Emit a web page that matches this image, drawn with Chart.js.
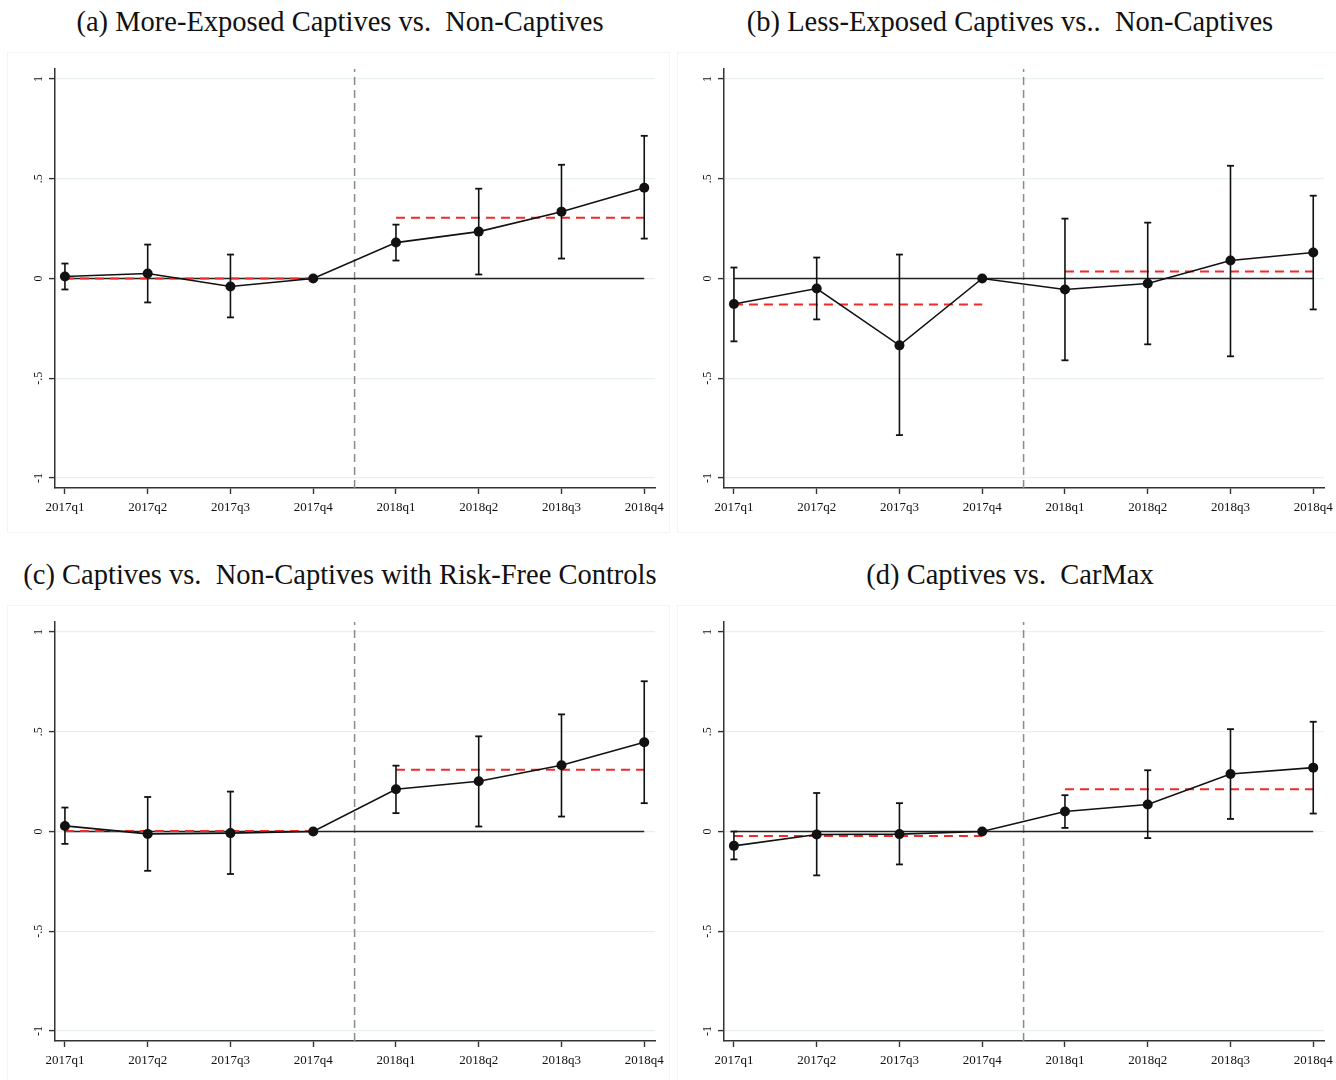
<!DOCTYPE html>
<html>
<head>
<meta charset="utf-8">
<script src="https://cdn.jsdelivr.net/npm/chart.js@4/dist/chart.umd.min.js"></script>
<style>
  html, body { margin: 0; padding: 0; background: #fff; overflow: hidden; }
  body { width: 1336px; height: 1080px; position: relative; }
  .frame { position: absolute; border: 1px solid #f4f4f4; box-sizing: border-box; }
  .title { position: absolute; width: 680px; text-align: center; white-space: pre;
           font-family: 'Liberation Serif', serif; font-size: 28.5px; color: #111; }
  canvas { position: absolute; }
</style>
</head>
<body>
<div class="frame" style="left:7px;top:52px;width:663px;height:481px"></div>
<div class="frame" style="left:677px;top:52px;width:663px;height:481px"></div>
<div class="frame" style="left:7px;top:605px;width:663px;height:481px"></div>
<div class="frame" style="left:677px;top:605px;width:663px;height:481px"></div>

<div class="title" id="title-a" style="left:0;top:6px"></div>
<div class="title" id="title-b" style="left:670px;top:6px"></div>
<div class="title" id="title-c" style="left:0;top:559px"></div>
<div class="title" id="title-d" style="left:670px;top:559px"></div>

<canvas id="chart-a" width="680" height="482" style="left:0;top:52px"></canvas>
<canvas id="chart-b" width="680" height="482" style="left:669px;top:52px"></canvas>
<canvas id="chart-c" width="680" height="482" style="left:0;top:605px"></canvas>
<canvas id="chart-d" width="680" height="482" style="left:669px;top:605px"></canvas>

<script>
// quarters on the x axis, tick labels on the y axis
const quarters = ['2017q1', '2017q2', '2017q3', '2017q4', '2018q1', '2018q2', '2018q3', '2018q4'];
const yTicks = [-1, -0.5, 0, 0.5, 1];
const yTickLabels = ['-1', '-.5', '0', '.5', '1'];
const yMin = -1.05;
const yMax = 1.05;
const eventAt = 4.5; // between 2017q4 and 2018q1

const titles = [
  '(a) More-Exposed Captives vs.  Non-Captives',
  '(b) Less-Exposed Captives vs..  Non-Captives',
  '(c) Captives vs.  Non-Captives with Risk-Free Controls',
  '(d) Captives vs.  CarMax'
];

// (a) more-exposed captives
const coefA = [0.01, 0.025, -0.04, 0, 0.18, 0.235, 0.335, 0.455];
const loA   = [-0.055, -0.12, -0.195, 0, 0.09, 0.02, 0.10, 0.20];
const hiA   = [0.075, 0.17, 0.12, 0, 0.27, 0.45, 0.57, 0.715];
const meanA = [0.0, 0.305];

// (b) less-exposed captives
const coefB = [-0.128, -0.05, -0.335, 0, -0.055, -0.025, 0.09, 0.13];
const loB   = [-0.315, -0.205, -0.785, 0, -0.41, -0.33, -0.39, -0.155];
const hiB   = [0.055, 0.105, 0.12, 0, 0.30, 0.28, 0.565, 0.415];
const meanB = [-0.13, 0.035];

// (c) risk-free controls
const coefC = [0.028, -0.012, -0.008, 0, 0.212, 0.252, 0.332, 0.447];
const loC   = [-0.062, -0.197, -0.213, 0, 0.092, 0.025, 0.075, 0.142];
const hiC   = [0.12, 0.173, 0.20, 0, 0.33, 0.477, 0.587, 0.753];
const meanC = [0.002, 0.31];

// (d) vs CarMax
const coefD = [-0.072, -0.015, -0.013, 0, 0.10, 0.135, 0.288, 0.32];
const loD   = [-0.14, -0.22, -0.165, 0, 0.018, -0.033, 0.063, 0.09];
const hiD   = [0.0, 0.193, 0.142, 0, 0.182, 0.307, 0.513, 0.55];
const meanD = [-0.023, 0.212];

Chart.defaults.font.family = "'Liberation Serif', serif";
Chart.defaults.color = '#222';
Chart.defaults.animation = false;

const INK = '#111';
const RED = '#ee2a2a';

function buildPanel(canvasId, coef, lo, hi, means) {
  const points = coef.map((v, i) => ({ x: i + 1, y: v }));

  // vertical CI segments, broken by nulls
  const ci = [];
  coef.forEach((v, i) => {
    if (lo[i] === hi[i]) return;
    ci.push({ x: i + 1, y: lo[i] }, { x: i + 1, y: hi[i] }, { x: i + 1, y: null });
  });

  const first = 1, last = quarters.length, split = quarters.indexOf('2018q1') + 1;

  new Chart(document.getElementById(canvasId), {
    type: 'line',
    data: {
      datasets: [
        { // estimates
          data: points, borderColor: INK, borderWidth: 1.6,
          pointRadius: 5, pointBackgroundColor: INK, pointBorderColor: INK, pointBorderWidth: 0
        },
        { // confidence intervals
          data: ci, borderColor: INK, borderWidth: 1.6, spanGaps: false,
          pointStyle: 'line', pointRadius: 3.5, pointBorderColor: INK, pointBorderWidth: 1.8
        },
        { // pre-period mean
          data: [{ x: first, y: means[0] }, { x: split - 1, y: means[0] }],
          borderColor: RED, borderWidth: 2, borderDash: [9, 6], pointRadius: 0
        },
        { // post-period mean
          data: [{ x: split, y: means[1] }, { x: last, y: means[1] }],
          borderColor: RED, borderWidth: 2, borderDash: [9, 6], pointRadius: 0
        },
        { // zero reference
          data: [{ x: first, y: 0 }, { x: last, y: 0 }],
          borderColor: '#222', borderWidth: 1.6, pointRadius: 0
        },
        { // event line
          data: [{ x: eventAt, y: yMin }, { x: eventAt, y: yMax }],
          borderColor: '#8a8a8a', borderWidth: 1.5, borderDash: [8, 5], pointRadius: 0
        }
      ]
    },
    options: {
      responsive: false,
      layout: { padding: { top: 17, right: 25, left: 0, bottom: 0 } },
      plugins: { legend: { display: false }, tooltip: { enabled: false }, title: { display: false } },
      scales: {
        x: {
          type: 'linear', min: 0.88, max: 8.13,
          afterBuildTicks: s => { s.ticks = quarters.map((q, i) => ({ value: i + 1 })); },
          afterFit: s => { s.height = 46; },
          ticks: { callback: v => quarters[v - 1], font: { size: 13 }, color: '#111', padding: 6, maxRotation: 0, autoSkip: false },
          grid: { drawOnChartArea: false, drawTicks: true, tickLength: 6, tickColor: '#333', tickWidth: 1.4 },
          border: { display: true, color: '#333', width: 1.5 }
        },
        y: {
          min: yMin, max: yMax,
          afterBuildTicks: s => { s.ticks = yTicks.map(v => ({ value: v })); },
          afterFit: s => { s.width = 55; },
          ticks: {
            callback: v => yTickLabels[yTicks.indexOf(v)],
            font: { size: 12 }, color: '#111', minRotation: 90, maxRotation: 90,
            crossAlign: 'center', padding: 4
          },
          grid: { color: '#e7eff1', lineWidth: 1.2, drawTicks: true, tickLength: 6, tickColor: '#333', tickWidth: 1.4 },
          border: { display: true, color: '#333', width: 1.5 }
        }
      }
    }
  });
}

['a', 'b', 'c', 'd'].forEach((k, i) => {
  document.getElementById('title-' + k).textContent = titles[i];
});

buildPanel('chart-a', coefA, loA, hiA, meanA);
buildPanel('chart-b', coefB, loB, hiB, meanB);
buildPanel('chart-c', coefC, loC, hiC, meanC);
buildPanel('chart-d', coefD, loD, hiD, meanD);
</script>
</body>
</html>
